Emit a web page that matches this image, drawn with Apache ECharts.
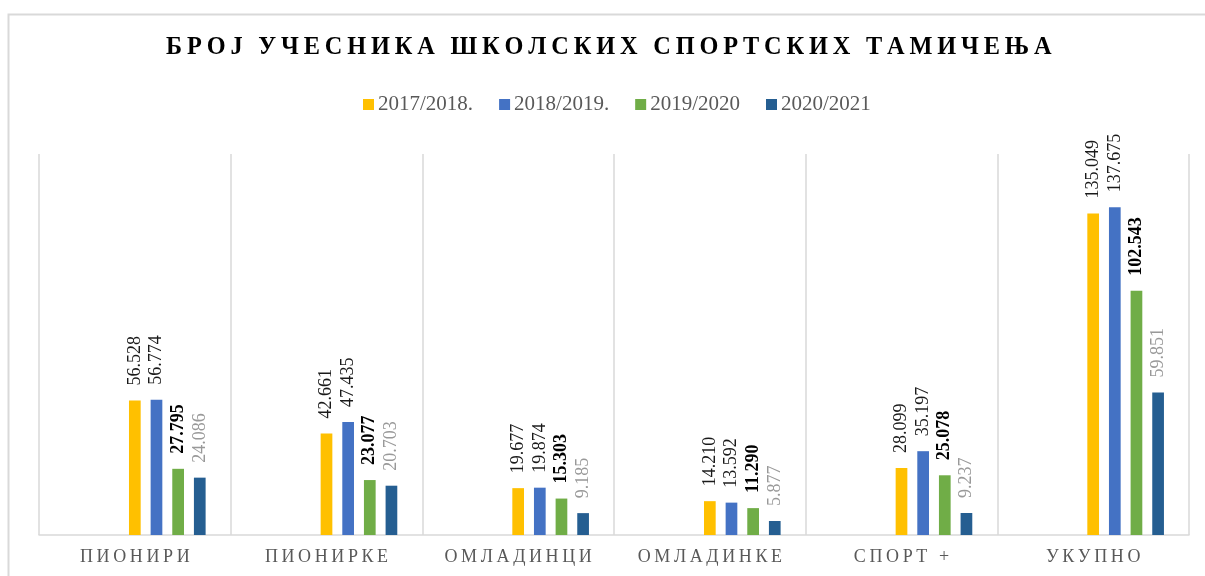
<!DOCTYPE html>
<html>
<head>
<meta charset="utf-8">
<script src="https://cdn.jsdelivr.net/npm/echarts@6/dist/echarts.min.js"></script>
<style>
  html, body { margin: 0; padding: 0; background: #fff; }
  #chart { width: 1205px; height: 576px; }
</style>
</head>
<body>
<div id="chart"></div>
<script>
var categories = ["ПИОНИРИ", "ПИОНИРКЕ", "ОМЛАДИНЦИ", "ОМЛАДИНКЕ", "СПОРТ +", "УКУПНО"];
var seasons = ["2017/2018.", "2018/2019.", "2019/2020", "2020/2021"];
var values2017 = [56528, 42661, 19677, 14210, 28099, 135049];
var values2018 = [56774, 47435, 19874, 13592, 35197, 137675];
var values2019 = [27795, 23077, 15303, 11290, 25078, 102543];
var values2020 = [24086, 20703, 9185, 5877, 9237, 59851];

var seriesColors = ["#FFC000", "#4472C4", "#70AD47", "#255E91"];
var labelColors = ["#1a1a1a", "#1a1a1a", "#000000", "#999999"];
var labelWeights = ["normal", "normal", "bold", "normal"];
var allValues = [values2017, values2018, values2019, values2020];

var font = "'Liberation Serif', 'Times New Roman', serif";

// letter spaced text, like the excel chart (thin space between letters)
function spaced(s, wordSep) {
  return s.split(" ").map(function (w) {
    return w.split("").join("\u2009");
  }).join(wordSep || "\u2009 ");
}

function fmt(v) {
  return String(v).replace(/\B(?=(\d{3})+(?!\d))/g, ".");
}

var chartDom = document.getElementById("chart");
var chart = echarts.init(chartDom, null, { renderer: "canvas" });

var series = [];
// excel had three empty series in front of the real ones
for (var e = 0; e < 3; e++) {
  series.push({
    name: "empty" + e,
    type: "bar",
    data: categories.map(function () { return null; }),
    barWidth: 11.7,
    barGap: "85%",
    silent: true,
  });
}
for (var i = 0; i < seasons.length; i++) {
  series.push({
    name: seasons[i],
    type: "bar",
    data: allValues[i],
    barWidth: 11.7,
    barGap: "85%",
    itemStyle: { color: seriesColors[i] },
    label: {
      show: true,
      position: "top",
      rotate: 90,
      align: "left",
      verticalAlign: "middle",
      distance: 15,
      fontFamily: font,
      fontSize: 18,
      fontWeight: labelWeights[i],
      color: labelColors[i],
      formatter: function (p) { return fmt(p.value); },
    },
  });
}

var option = {
  animation: false,
  backgroundColor: "#ffffff",
  title: {
    text: spaced("БРОЈ УЧЕСНИКА ШКОЛСКИХ СПОРТСКИХ ТАМИЧЕЊА", "\u2009 \u2009"),
    left: 166,
    top: 36,
    padding: 0,
    textStyle: {
      fontFamily: font,
      fontSize: 24.3,
      fontWeight: "bold",
      color: "#000000",
    },
  },
  legend: {
    data: seasons,
    left: 363,
    top: 94,
    padding: 0,
    itemWidth: 11,
    itemHeight: 11,
    itemGap: 26,
    icon: "rect",
    textStyle: {
      fontFamily: font,
      fontSize: 21,
      color: "#595959",
      padding: [0, 0, 0, -1],
    },
  },
  graphic: [
    {
      type: "rect",
      shape: { x: 8.5, y: 14.5, width: 1205, height: 600 },
      style: { fill: "none", stroke: "#d9d9d9", lineWidth: 2 },
      silent: true,
    },
  ],
  grid: {
    left: 39,
    right: 16,
    top: 154,
    bottom: 41,
  },
  xAxis: {
    type: "category",
    data: categories,
    axisTick: { show: false },
    axisLine: { lineStyle: { color: "#d9d9d9", width: 1.5 } },
    splitLine: { show: true, lineStyle: { color: "#d9d9d9", width: 1.5 } },
    axisLabel: {
      fontFamily: font,
      fontSize: 18,
      color: "#595959",
      margin: 13,
      formatter: function (v) { return spaced(v, "\u2009 \u2009"); },
    },
  },
  yAxis: {
    type: "value",
    min: 0,
    max: 160000,
    interval: 20000,
    show: false,
    splitLine: { show: false },
  },
  series: series,
};

chart.setOption(option);
</script>
</body>
</html>
